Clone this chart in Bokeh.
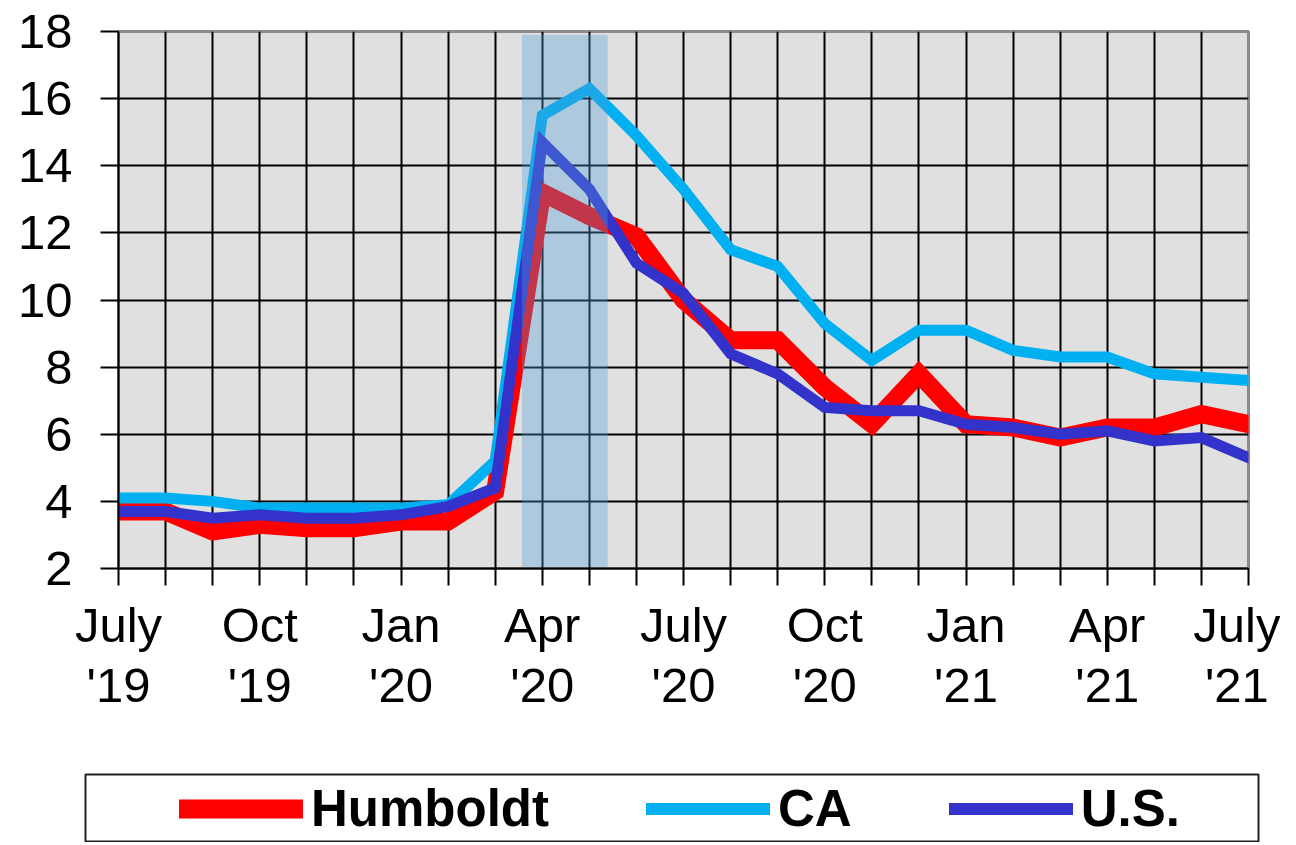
from bokeh.plotting import figure
from bokeh.models import FixedTicker, Legend, LegendItem, Range1d
from bokeh.layouts import column, row
from bokeh.embed import file_html
from bokeh.resources import INLINE

# ---- data ----
months = ["Jul 2019", "Aug 2019", "Sep 2019", "Oct 2019", "Nov 2019", "Dec 2019",
          "Jan 2020", "Feb 2020", "Mar 2020", "Apr 2020", "May 2020", "Jun 2020",
          "Jul 2020", "Aug 2020", "Sep 2020", "Oct 2020", "Nov 2020", "Dec 2020",
          "Jan 2021", "Feb 2021", "Mar 2021", "Apr 2021", "May 2021", "Jun 2021",
          "Jul 2021"]
humboldt = [3.7, 3.7, 3.1, 3.3, 3.2, 3.2, 3.4, 3.4, 4.3, 13.2, 12.5, 11.9,
            10.0, 8.8, 8.8, 7.4, 6.3, 7.8, 6.3, 6.2, 5.9, 6.2, 6.2, 6.6, 6.3]
ca = [4.1, 4.1, 4.0, 3.8, 3.8, 3.8, 3.8, 3.9, 5.2, 15.5, 16.3, 14.9,
      13.3, 11.5, 11.0, 9.3, 8.2, 9.1, 9.1, 8.5, 8.3, 8.3, 7.8, 7.7, 7.6]
us = [3.7, 3.7, 3.5, 3.6, 3.5, 3.5, 3.6, 3.85, 4.4, 14.7, 13.3, 11.1,
      10.2, 8.4, 7.8, 6.8, 6.7, 6.7, 6.3, 6.2, 6.0, 6.1, 5.8, 5.9, 5.3]
tick_labels = {0: "July\n'19", 3: "Oct\n'19", 6: "Jan\n'20", 9: "Apr\n'20",
               12: "July\n'20", 15: "Oct\n'20", 18: "Jan\n'21", 21: "Apr\n'21",
               24: "July\n'21"}
y_ticks = [2, 4, 6, 8, 10, 12, 14, 16, 18]
band_start, band_end = 8.57, 10.39   # shaded recession period (month index)
band_bottom, band_top = 2.05, 17.9

series_names = ["Humboldt", "CA", "U.S."]
series_values = [humboldt, ca, us]
series_colors = ["#FF0000", "#00B0F0", "#3333CC"]
series_widths = [18, 11, 11]

x = list(range(len(months)))

FONT = "Liberation Sans"

p = figure(width=1280, height=770, output_backend="svg", toolbar_location=None,
           x_range=Range1d(0, 24), y_range=Range1d(2, 18),
           min_border_left=118, min_border_top=31, min_border_right=32,
           min_border_bottom=202)
p.background_fill_color = "#E0E0E0"
p.border_fill_color = "white"
p.outline_line_color = "#8C8C8C"
p.outline_line_width = 3

# grid
p.xgrid.ticker = FixedTicker(ticks=x)
p.ygrid.ticker = FixedTicker(ticks=y_ticks)
for g in (p.xgrid, p.ygrid):
    g.grid_line_color = "black"
    g.grid_line_width = 2
    g.grid_line_alpha = 1.0

# axes
p.xaxis.ticker = FixedTicker(ticks=x)
p.xaxis.major_label_overrides = {i: tick_labels.get(i, "") for i in x}
p.yaxis.ticker = FixedTicker(ticks=y_ticks)
for ax in (p.xaxis, p.yaxis):
    ax.axis_line_color = "black"
    ax.axis_line_width = 2
    ax.major_tick_line_color = "black"
    ax.major_tick_line_width = 2
    ax.major_tick_in = 0
    ax.minor_tick_line_color = None
    ax.major_label_text_font = FONT
    ax.major_label_text_font_size = "49px"
    ax.major_label_text_color = "black"
p.xaxis.major_tick_out = 17
p.xaxis.major_label_standoff = 12
p.xaxis.major_label_text_line_height = 1.12
p.yaxis.major_tick_out = 18
p.yaxis.major_label_standoff = 28

# lines
for vals, c, w in zip(series_values, series_colors, series_widths):
    p.line(x, vals, line_color=c, line_width=w, line_join="miter", line_cap="round")

# shaded band (drawn over lines, translucent)
p.quad(left=[band_start], right=[band_end], bottom=[band_bottom], top=[band_top],
       fill_color="#4F9AD6", fill_alpha=0.35, line_color=None)

# ---- legend panel (boxed) ----
pl = figure(width=1280, height=72, output_backend="svg", toolbar_location=None,
            x_range=Range1d(0, 1), y_range=Range1d(100, 101),
            x_axis_location=None, y_axis_location=None,
            min_border_left=85, min_border_right=22, min_border_top=4,
            min_border_bottom=0)
pl.grid.visible = False
pl.background_fill_color = "white"
pl.border_fill_color = "white"
pl.outline_line_color = "#222222"
pl.outline_line_width = 2

items = []
for name, vals, c, w in zip(series_names, series_values, series_colors, series_widths):
    # same series, out of this panel's view: only its legend swatch shows
    r = pl.line(x, vals, line_color=c, line_width=w + 1, line_cap="round")
    items.append(LegendItem(label=name, renderers=[r]))

legend = Legend(items=items, orientation="horizontal", location="left",
                padding=0, margin=94, spacing=97,
                glyph_width=124, glyph_height=50, label_height=50,
                label_standoff=8, border_line_alpha=0,
                background_fill_alpha=0,
                label_text_font=FONT, label_text_font_size="51px",
                label_text_font_style="bold", label_text_color="black")
pl.add_layout(legend)

layout = column(p, row(pl), spacing=0)
open("out.html", "w").write(file_html(layout, INLINE))
